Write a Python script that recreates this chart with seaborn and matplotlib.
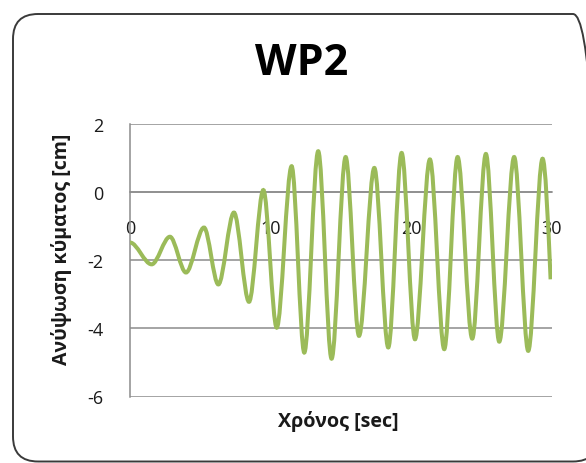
import numpy as np
import seaborn as sns
import matplotlib.pyplot as plt
from matplotlib.path import Path
from matplotlib.patches import PathPatch, FancyBboxPatch

# turning points of the WP2 record
TIMES = [0.0, 1.54, 2.84, 3.98, 5.26, 6.28, 7.39, 8.46, 9.48, 10.43,
         11.49, 12.39, 13.38, 14.33, 15.33, 16.28, 17.37, 18.36, 19.31, 20.26,
         21.32, 22.34, 23.29, 24.33, 25.30, 26.25, 27.31, 28.31, 29.33, 29.9]
ELEVATION = [-1.48, -2.12, -1.31, -2.36, -1.04, -2.71, -0.60, -3.22, 0.06, -3.98,
             0.76, -4.71, 1.20, -4.89, 1.03, -4.22, 0.71, -4.56, 1.15, -4.32,
             0.96, -4.61, 1.03, -4.30, 1.12, -4.39, 1.03, -4.66, 0.98, -2.56]
X_TICKS = [0, 10, 20, 30]
Y_TICKS = [-6, -4, -2, 0, 2]

TITLE = 'WP2'
X_LABEL = 'Χρόνος [sec]'
Y_LABEL = 'Ανύψωση κύματος [cm]'

GREEN = '#9BBB59'
GRID = '#8C8C8C'

sns.set_theme(style='white')
plt.rcParams['font.family'] = ['Open Sans', 'DejaVu Sans']
plt.rcParams['axes.unicode_minus'] = False

W, H = 586, 464
fig = plt.figure(figsize=(W / 100, H / 100), dpi=100)
ax = fig.add_axes([130 / W, 1 - 397.5 / H, 422 / W, 272.5 / H])

# smooth wave: bezier segments between consecutive turning points
verts = [(TIMES[0], ELEVATION[0])]
codes = [Path.MOVETO]
n = len(TIMES)
for i in range(n - 1):
    t0, v0 = TIMES[i], ELEVATION[i]
    t1, v1 = TIMES[i + 1], ELEVATION[i + 1]
    dt = t1 - t0
    c1 = (t0 + dt / 3, v0)
    if i == n - 2:
        c2 = (t1 - dt / 3, v1 + (v0 - v1) * 0.5)
    else:
        c2 = (t1 - dt / 3, v1)
    verts += [c1, c2, (t1, v1)]
    codes += [Path.CURVE4] * 3
ax.add_patch(PathPatch(Path(verts, codes), facecolor='none', edgecolor=GREEN,
                       lw=2.9, capstyle='butt', zorder=3))

ax.set_xlim(0, 30)
ax.set_ylim(-6, 2)
ax.set_xticks(X_TICKS)
ax.set_yticks(Y_TICKS)
ax.grid(axis='y', color=GRID, lw=1.1)
ax.grid(axis='x', visible=False)
for s in ['top', 'right']:
    ax.spines[s].set_visible(False)
ax.spines['left'].set_color(GRID)
ax.spines['left'].set_linewidth(1.1)
ax.spines['bottom'].set_position(('data', 0))
ax.spines['bottom'].set_color(GRID)
ax.spines['bottom'].set_linewidth(1.1)
ax.tick_params(axis='x', length=0, pad=19, labelsize=13, labelcolor='#1a1a1a')
ax.tick_params(axis='y', length=0, pad=19, labelsize=13, labelcolor='#1a1a1a')
ax.set_facecolor('white')

fig.text(302 / W, 1 - 63.5 / H, TITLE, ha='center', va='center',
         fontsize=31, fontweight='bold', color='black')
fig.text(338 / W, 1 - 422 / H, X_LABEL, ha='center', va='center',
         fontsize=14.2, fontweight='bold', color='#1a1a1a')
fig.text(62 / W, 1 - 249 / H, Y_LABEL, ha='center', va='center', rotation=90,
         fontsize=14, fontweight='bold', color='#1a1a1a')

# rounded chart border, right side runs off the image
border = FancyBboxPatch((13 / 100, 1.5 / 100), (598 - 13) / 100, (449 - 1.5) / 100,
                        boxstyle='round,pad=0,rounding_size=0.25',
                        transform=fig.dpi_scale_trans, facecolor='none',
                        edgecolor='#3a3a3a', lw=1.4)
fig.add_artist(border)

fig.savefig('out.png', dpi=100)
